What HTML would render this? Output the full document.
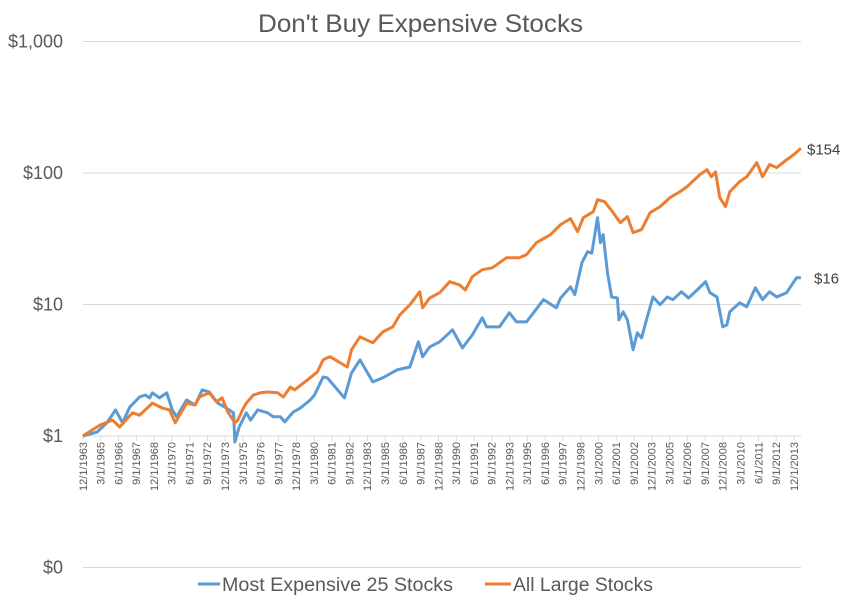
<!DOCTYPE html>
<html><head><meta charset="utf-8">
<style>
html,body{margin:0;padding:0;background:#fff;}
svg{display:block;font-family:"Liberation Sans",sans-serif;}
</style></head>
<body>
<svg id="chart" width="846" height="605" viewBox="0 0 846 605">
<text x="258" y="32" textLength="325" lengthAdjust="spacingAndGlyphs" font-size="25" fill="#595959">Don't Buy Expensive Stocks</text>
<g id="grid"></g>
<g id="yticks"></g>
<g id="xticks"></g>
<g id="series"></g>
<g>
<line x1="198" y1="584" x2="220" y2="584" stroke="#5B9BD5" stroke-width="3"/>
<text x="222" y="591" textLength="231" lengthAdjust="spacingAndGlyphs" font-size="19" fill="#595959">Most Expensive 25 Stocks</text>
<line x1="485" y1="584" x2="511" y2="584" stroke="#ED7D31" stroke-width="3"/>
<text x="513" y="591" textLength="140" lengthAdjust="spacingAndGlyphs" font-size="19" fill="#595959">All Large Stocks</text>
</g>
</svg>
<script>
const yearsBlue=[1963.9,1964.9,1965.6,1966.2,1966.7,1967.2,1967.9,1968.3,1968.6,1968.8,1969.3,1969.8,1970.2,1970.5,1971.2,1971.8,1972.3,1972.8,1973.4,1974.0,1974.5,1974.6,1974.9,1975.4,1975.7,1976.2,1976.9,1977.3,1977.8,1978.1,1978.7,1979.2,1979.9,1980.2,1980.8,1981.1,1982.3,1982.8,1983.4,1984.3,1985.0,1986.0,1986.9,1987.5,1987.8,1988.3,1989.0,1989.9,1990.6,1991.3,1992.0,1992.3,1993.2,1993.9,1994.4,1995.1,1995.6,1996.3,1997.2,1997.5,1998.2,1998.5,1999.0,1999.4,1999.7,2000.1,2000.3,2000.5,2000.8,2001.1,2001.5,2001.6,2001.9,2002.2,2002.6,2002.9,2003.2,2003.6,2004.0,2004.5,2005.0,2005.4,2006.0,2006.5,2007.1,2007.7,2008.0,2008.5,2008.9,2009.2,2009.4,2010.1,2010.6,2011.2,2011.7,2012.2,2012.7,2013.4,2014.1,2014.4];
const valuesBlue=[1.00,1.07,1.26,1.58,1.26,1.66,1.98,2.05,1.95,2.13,1.95,2.13,1.58,1.40,1.88,1.72,2.24,2.16,1.78,1.63,1.50,0.90,1.17,1.50,1.32,1.58,1.50,1.40,1.40,1.28,1.52,1.63,1.88,2.05,2.81,2.77,1.95,3.02,3.79,2.58,2.77,3.18,3.35,5.20,4.0,4.76,5.20,6.42,4.68,5.88,7.92,6.76,6.76,8.65,7.38,7.38,8.65,10.9,9.44,11.2,13.6,11.9,20.8,25.2,24.6,45.7,29.5,34.0,17.4,11.4,11.2,7.64,8.80,7.64,4.52,6.09,5.57,8.06,11.4,9.95,11.4,10.9,12.5,11.2,12.9,14.9,12.3,11.4,6.76,7.0,8.80,10.3,9.6,13.4,10.9,12.5,11.4,12.3,16.0,16.0];
const yearsOrange=[1963.9,1965.1,1966.0,1966.5,1967.4,1967.9,1968.8,1969.5,1970.0,1970.4,1971.2,1971.8,1972.1,1972.8,1973.3,1973.7,1974.1,1974.6,1974.8,1975.2,1975.4,1975.9,1976.4,1976.9,1977.6,1978.0,1978.5,1978.8,1979.7,1980.4,1980.8,1981.1,1981.3,1982.5,1982.8,1983.4,1984.3,1985.0,1985.7,1986.2,1986.9,1987.6,1987.8,1988.3,1989.0,1989.7,1990.4,1990.8,1991.3,1992.0,1992.7,1993.7,1994.6,1995.1,1995.8,1996.8,1997.5,1998.2,1998.7,1999.1,1999.8,2000.1,2000.6,2001.2,2001.7,2002.2,2002.6,2003.2,2003.8,2004.5,2005.2,2005.9,2006.4,2007.3,2007.8,2008.1,2008.4,2008.7,2009.1,2009.4,2010.1,2010.6,2011.3,2011.7,2012.2,2012.7,2013.4,2013.9,2014.4];
const valuesOrange=[1.00,1.21,1.32,1.17,1.50,1.44,1.78,1.63,1.58,1.26,1.78,1.72,1.98,2.13,1.82,1.95,1.52,1.26,1.32,1.63,1.78,2.05,2.13,2.16,2.13,1.98,2.36,2.24,2.67,3.07,3.79,3.93,4.0,3.35,4.52,5.68,5.11,6.19,6.76,8.35,9.95,12.5,9.44,11.2,12.3,14.9,14.1,12.9,16.3,18.4,19.0,22.7,22.7,23.9,29.5,34.0,40.5,45.0,35.8,45.7,50.8,62.7,60.5,49.9,41.9,46.6,35.2,37.1,49.9,55.5,65.0,72.1,78.8,97.2,106,93.8,102,65.0,55.5,72.1,86.0,93.8,120,93.8,116,110,126,138,154];
const yTickValues=[0.1,1,10,100,1000];
const yTickLabels=["$0","$1","$10","$100","$1,000"];
const endLabels=["$154","$16"];

const NS="http://www.w3.org/2000/svg";
const X0=83,X1=801,Y1=436,DEC=131.5,START=1963.917,PXY=14.22;
const xs=t=>X0+(t-START)*PXY;
const ys=v=>Y1-Math.log10(v)*DEC;
function mk(tag,attrs,parent){const e=document.createElementNS(NS,tag);for(const k in attrs)e.setAttribute(k,attrs[k]);parent.appendChild(e);return e;}

const grid=document.getElementById('grid'),yt=document.getElementById('yticks'),xt=document.getElementById('xticks'),ser=document.getElementById('series');
yTickValues.forEach((v,i)=>{
  const y=ys(v);
  if(v!==1){const g=mk('line',{x1:X0,x2:X1,y1:y,y2:y,stroke:'#d9d9d9','stroke-width':1},grid);
  
  }
  const t=mk('text',{x:63,y:y+6,'text-anchor':'end','font-size':18,fill:'#595959'},yt);
  t.textContent=yTickLabels[i];
  
  
});
const ax=mk('line',{x1:X0,x2:X1,y1:Y1,y2:Y1,stroke:'#d9d9d9','stroke-width':1},xt);


for(let i=0;i<=40;i++){
  const m=11+i*15;const yr=1963+Math.floor(m/12);const mo=m%12+1;
  const t=START+i*1.25;const x=xs(t);
  const tk=mk('line',{x1:x,x2:x,y1:Y1,y2:Y1+5,stroke:'#d9d9d9'},xt);
  
  
  const lb=mk('text',{x:0,y:0,'text-anchor':'end','font-size':11,fill:'#595959',transform:`translate(${x+3.8},${Y1+6}) rotate(-90)`},xt);
  lb.textContent=mo+'/1/'+yr;
  
  
}
function line(years,vals,color,name){
  const d=years.map((t,i)=>(i?'L':'M')+xs(t).toFixed(1)+','+ys(vals[i]).toFixed(1)).join('');
  const p=mk('path',{d:d,fill:'none',stroke:color,'stroke-width':3,'stroke-linejoin':'round'},ser);
  
  
}
line(yearsBlue,valuesBlue,'#5B9BD5','series-most-expensive');
line(yearsOrange,valuesOrange,'#ED7D31','series-all-large');
const lo=valuesOrange[valuesOrange.length-1],lb2=valuesBlue[valuesBlue.length-1];
const e1=mk('text',{x:807,y:ys(lo)+6,'font-size':15,fill:'#404040'},ser);
e1.textContent=endLabels[0];


const e2=mk('text',{x:814,y:ys(lb2)+6,'font-size':15,fill:'#404040'},ser);
e2.textContent=endLabels[1];


</script>
</body></html>
